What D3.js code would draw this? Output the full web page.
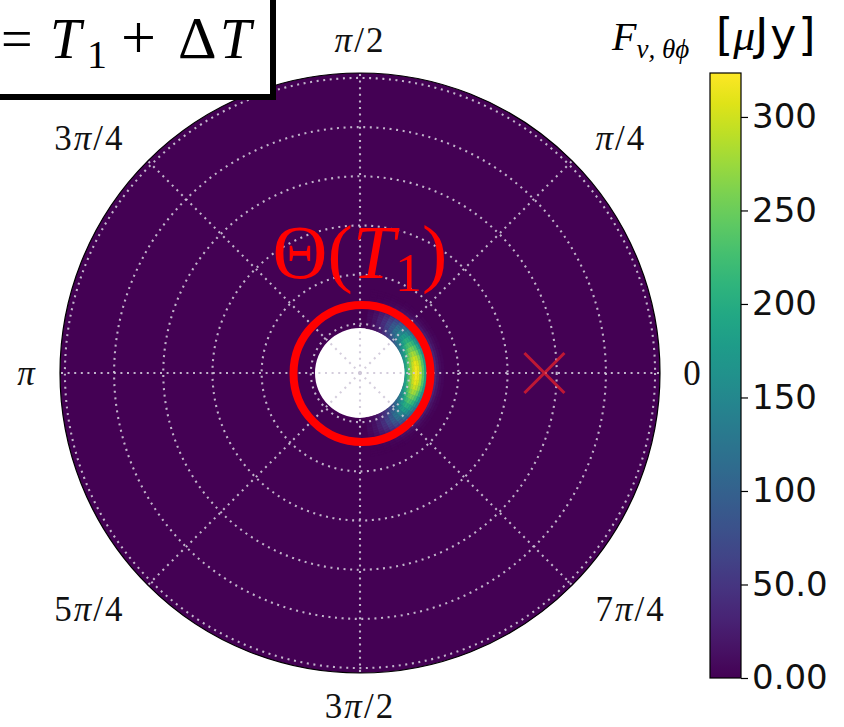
<!DOCTYPE html>
<meta charset="utf-8">
<style>
body { margin: 0; background: #fff; }
svg { display: block; }
.grid { fill: none; stroke: #cfc8d8; stroke-width: 2.1; stroke-dasharray: 2,4.6; stroke-opacity: 0.9; }
.tlab { font-family: "Liberation Serif", serif; font-size: 35px; letter-spacing: 2px; fill: #111; }
.cbar text { font-family: "DejaVu Sans", sans-serif; font-size: 34px; fill: #111; }
</style>
<body>
<svg width="844" height="727"></svg>
<script src="https://d3js.org/d3.v7.min.js"></script>
<script>

// angular ticks (radians) and their labels
var thetaTicks = [0, Math.PI/4, Math.PI/2, 3*Math.PI/4, Math.PI, 5*Math.PI/4, 3*Math.PI/2, 7*Math.PI/4];
var thetaLabels = ["0", "π/4", "π/2", "3π/4", "π", "5π/4", "3π/2", "7π/4"];
// radial grid rings
var rRings = [1, 2, 3, 4, 5, 6];
var rMax = 6.1, rHole = 0.915;

// flux peak and profiles (radius in axis units, angle in degrees from 0)
var fluxPeak = 322;
var radCenters = [0.94, 0.99, 1.04, 1.09, 1.14, 1.19, 1.24, 1.29, 1.34, 1.39, 1.44, 1.49, 1.54, 1.59, 1.64, 1.69];
var radProfile = [0.6, 0.72, 0.84, 0.94, 1.0, 0.97, 0.89, 0.75, 0.58, 0.42, 0.28, 0.18, 0.11, 0.06, 0.03, 0.015];
var angCenters = [0, 5, 10, 15, 20, 25, 30, 35, 40, 45, 50, 55, 60, 65, 70, 75, 80];
var angProfile = [1.0, 0.99, 0.97, 0.93, 0.87, 0.8, 0.72, 0.64, 0.56, 0.47, 0.38, 0.29, 0.21, 0.14, 0.09, 0.05, 0.025];

// marker
var markR = 3.75, markTheta = 0;

// colorbar
var cbMax = 323.5;
var cbTicks = [0, 50, 100, 150, 200, 250, 300];
var cbLabels = ["0.00", "50.0", "100", "150", "200", "250", "300"];

var svg = d3.select("svg");
var cx = 360, cy = 373, R = 300;

var r = d3.scaleLinear().domain([0, rMax]).range([0, R]);
var color = d3.scaleSequential(d3.interpolateViridis).domain([0, cbMax]);

var g = svg.append("g").attr("transform", "translate(" + cx + "," + cy + ")");

// background annulus (hole in middle is empty)
g.append("path")
  .attr("d", d3.arc()({innerRadius: r(rHole), outerRadius: R, startAngle: 0, endAngle: 2*Math.PI}))
  .attr("fill", color(0));

// heat cells
var cells = [];
var dr = 0.05, da = 5;
radCenters.forEach(function(rc, i) {
  angCenters.forEach(function(ac, j) {
    var v = fluxPeak * radProfile[i] * angProfile[j];
    var signs = ac === 0 ? [1] : [1, -1];
    signs.forEach(function(s) {
      cells.push({r0: Math.max(rc - dr/2, rHole), r1: rc + dr/2, a: s*ac, v: v});
    });
  });
});

var toD3 = function(deg) { return Math.PI/2 - deg*Math.PI/180; };

g.selectAll(".cell")
  .data(cells)
  .enter().append("path")
    .attr("class", "cell")
    .attr("d", function(d) {
      return d3.arc()({innerRadius: r(d.r0), outerRadius: r(d.r1),
        startAngle: toD3(d.a + da/2), endAngle: toD3(d.a - da/2)});
    })
    .attr("fill", function(d) { return color(d.v); })
    .attr("stroke", function(d) { return color(d.v); })
    .attr("stroke-width", 0.6);

// grid
g.selectAll(".ring")
  .data(rRings)
  .enter().append("circle")
    .attr("class", "grid")
    .attr("r", function(d) { return r(d); });

g.selectAll(".spoke")
  .data(thetaTicks)
  .enter().append("line")
    .attr("class", "grid")
    .attr("x1", 0).attr("y1", 0)
    .attr("x2", function(d) { return R * Math.cos(d); })
    .attr("y2", function(d) { return -R * Math.sin(d); });

// outer spine
g.append("circle").attr("r", R).attr("fill", "none").attr("stroke", "#000").attr("stroke-width", 1.2);

// theta labels
var labR = 333;
g.selectAll(".tlab")
  .data(thetaTicks)
  .enter().append("text")
    .attr("class", "tlab")
    .attr("x", function(d) { return labR * Math.cos(d); })
    .attr("y", function(d) { return -labR * Math.sin(d); })
    .attr("dy", "0.35em")
    .attr("text-anchor", function(d) {
      var c = Math.cos(d);
      if (Math.abs(c) < 0.1 || Math.abs(c) > 0.9) return "middle";
      return c > 0 ? "start" : "end";
    })
    .html(function(d, i) {
      return thetaLabels[i].replace("π", "<tspan font-style='italic'>π</tspan>");
    });

// red X marker
var mx = r(markR) * Math.cos(markTheta), my = -r(markR) * Math.sin(markTheta), ms = 20;
g.append("path")
  .attr("d", "M" + (mx-ms) + "," + (my-ms) + "L" + (mx+ms) + "," + (my+ms) +
             "M" + (mx-ms) + "," + (my+ms) + "L" + (mx+ms) + "," + (my-ms))
  .attr("stroke", "#e8202a")
  .attr("stroke-opacity", 0.75)
  .attr("stroke-width", 3);

// red circle and label
g.append("circle")
  .attr("cx", 2).attr("cy", 0.5).attr("r", 68.5)
  .attr("fill", "none").attr("stroke", "#ff0000").attr("stroke-width", 8);

var th = g.append("text")
  .attr("x", 0).attr("y", -95)
  .attr("text-anchor", "middle")
  .style("font-family", "Liberation Serif, serif")
  .style("font-size", "76px")
  .attr("fill", "#ff0000");
th.append("tspan").text("Θ(");
th.append("tspan").attr("font-style", "italic").text("T");
th.append("tspan").attr("dy", 13).style("font-size", "54px").text("1");
th.append("tspan").attr("dy", -13).text(")");

// colorbar
var cbX = 710, cbW = 31, cbTop = 73, cbBot = 678;
var y = d3.scaleLinear().domain([0, cbMax]).range([cbBot, cbTop]);

var grad = svg.append("defs").append("linearGradient")
  .attr("id", "vir").attr("x1", 0).attr("y1", 1).attr("x2", 0).attr("y2", 0);
d3.range(0, 1.0001, 0.05).forEach(function(t) {
  grad.append("stop").attr("offset", t).attr("stop-color", d3.interpolateViridis(t));
});

svg.append("rect")
  .attr("x", cbX).attr("y", cbTop).attr("width", cbW).attr("height", cbBot - cbTop)
  .attr("fill", "url(#vir)").attr("stroke", "#000").attr("stroke-width", 1.2);

var cbAxis = svg.append("g")
  .attr("class", "cbar")
  .attr("transform", "translate(" + (cbX + cbW) + ",0)")
  .call(d3.axisRight(y).tickValues(cbTicks).tickSize(7).tickPadding(4)
    .tickFormat(function(d, i) { return cbLabels[i]; }));
cbAxis.select(".domain").remove();
cbAxis.selectAll("line").attr("stroke", "#000").attr("stroke-width", 1.2);

// colorbar title
var ct = svg.append("text").attr("y", 50);
ct.append("tspan").attr("x", 612).style("font-family", "Liberation Serif, serif").style("font-style", "italic")
  .style("font-size", "40px").text("F");
ct.append("tspan").attr("dy", 8).style("font-family", "Liberation Serif, serif").style("font-style", "italic")
  .style("font-size", "27px").text("ν, θϕ");
ct.append("tspan").attr("x", 716).attr("dy", -8).style("font-family", "DejaVu Sans, sans-serif")
  .style("font-size", "44px").text("[");
ct.append("tspan").style("font-family", "Liberation Serif, serif").style("font-style", "italic")
  .style("font-size", "44px").text("μ");
ct.append("tspan").style("font-family", "DejaVu Sans, sans-serif")
  .style("font-size", "44px").style("letter-spacing", "2px").text("Jy]");

// top-left boxed annotation
svg.append("rect")
  .attr("x", -10).attr("y", -10).attr("width", 283).attr("height", 107)
  .attr("fill", "#fff").attr("stroke", "#000").attr("stroke-width", 6);

var bt = svg.append("text").attr("y", 58)
  .style("font-family", "Liberation Serif, serif").style("font-size", "56px").attr("fill", "#000");
bt.append("tspan").attr("x", 1).text("=");
bt.append("tspan").attr("x", 50).attr("font-style", "italic").text("T");
bt.append("tspan").attr("x", 87).attr("dy", 10).style("font-size", "40px").text("1");
bt.append("tspan").attr("x", 121).attr("dy", -10).style("font-size", "62px").text("+");
bt.append("tspan").attr("x", 178).style("font-size", "60px").text("Δ");
bt.append("tspan").attr("x", 220).attr("font-style", "italic").text("T");

</script>
</body>
